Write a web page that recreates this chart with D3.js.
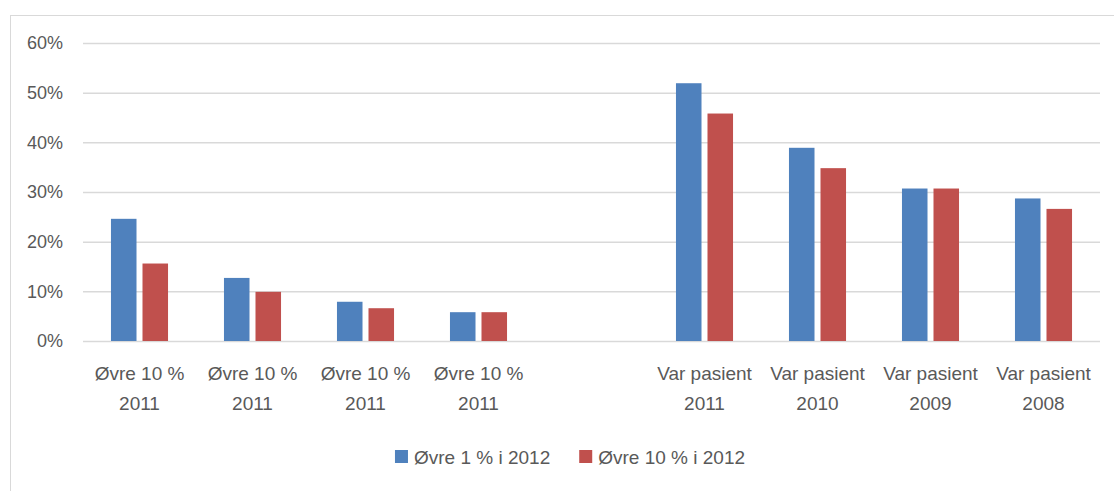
<!DOCTYPE html>
<html>
<head>
<meta charset="utf-8">
<script src="https://cdn.jsdelivr.net/npm/d3@7"></script>
<style>
	body { margin: 0; background: #fff; }
	text { font-family: "Liberation Sans", Arial, sans-serif; fill: #595959; }
</style>
</head>
<body>
<div id="chart"></div>
<script>
// values, in percent
const categories = [
	"Øvre 10 % 2011", "Øvre 10 % 2011", "Øvre 10 % 2011", "Øvre 10 % 2011",
	"",
	"Var pasient 2011", "Var pasient 2010", "Var pasient 2009", "Var pasient 2008"
];
const seriesNames = ["Øvre 1 % i 2012", "Øvre 10 % i 2012"];
const top1 = [24.6, 12.7, 7.9, 5.8, null, 51.9, 38.9, 30.7, 28.7];
const top10 = [15.6, 9.9, 6.6, 5.8, null, 45.8, 34.8, 30.7, 26.6];
const yTicks = [0, 10, 20, 30, 40, 50, 60];
const colors = ["#4f81bd", "#c0504d"];

const width = 1114, height = 491;
const plotLeft = 83, plotRight = 1100, plotTop = 43, plotBottom = 341;

const svg = d3.select('#chart').append('svg')
	.attr('width', width)
	.attr('height', height);

// chart frame
svg.append('rect')
	.attr('x', 10.5).attr('y', 15.5)
	.attr('width', width).attr('height', height)
	.attr('fill', 'none')
	.attr('stroke', '#d9d9d9');

const x0 = d3.scaleBand()
	.domain(d3.range(categories.length))
	.range([plotLeft, plotRight])
	.paddingInner(0.495)
	.paddingOuter(0.2475);
const x1 = d3.scaleBand()
	.domain([0, 1])
	.range([0, x0.bandwidth()])
	.paddingInner(0.19);
const y = d3.scaleLinear()
	.domain([0, 60])
	.range([plotBottom, plotTop]);

// gridlines + y labels
const yAxis = svg.append('g')
	.attr('transform', `translate(${plotLeft},0)`)
	.call(d3.axisLeft(y).tickValues(yTicks).tickSize(-(plotRight - plotLeft))
		.tickPadding(20).tickFormat(d => d + '%'));
yAxis.select('.domain').remove();
yAxis.selectAll('line').attr('stroke', '#d9d9d9').attr('stroke-width', 1.5);
yAxis.selectAll('text')
	.style('font-size', '18px')
	.attr('fill', '#595959')
	.attr('font-family', '"Liberation Sans", Arial, sans-serif');

// bars
const series = [top1, top10];
series.forEach((vals, s) => {
	svg.append('g')
		.selectAll('rect')
		.data(vals.map((v, i) => ({ v, i })).filter(d => d.v != null))
		.join('rect')
		.attr('x', d => x0(d.i) + x1(s))
		.attr('width', x1.bandwidth())
		.attr('y', d => y(d.v))
		.attr('height', d => y(0) - y(d.v))
		.attr('fill', colors[s]);
});

// category labels, split in two lines at the last space
const labels = svg.append('g')
	.selectAll('text')
	.data(categories.map((c, i) => ({ c, i })).filter(d => d.c))
	.join('text')
	.attr('text-anchor', 'middle')
	.style('font-size', '19px')
	.attr('transform', d => `translate(${x0(d.i) + x0.bandwidth() / 2},0)`);
labels.append('tspan')
	.attr('x', 0).attr('y', 380)
	.text(d => d.c.slice(0, d.c.lastIndexOf(' ')));
labels.append('tspan')
	.attr('x', 0).attr('y', 410)
	.text(d => d.c.slice(d.c.lastIndexOf(' ') + 1));

// legend
const legend = svg.append('g');
const items = legend.selectAll('g')
	.data(seriesNames)
	.join('g');
items.append('rect')
	.attr('width', 13).attr('height', 13)
	.attr('y', 450)
	.attr('fill', (d, i) => colors[i]);
items.append('text')
	.attr('x', 19).attr('y', 464)
	.style('font-size', '19px')
	.text(d => d);
let offset = 0;
const gap = 29;
const widths = [];
items.each(function () {
	widths.push(19 + this.querySelector('text').getComputedTextLength());
});
const total = d3.sum(widths) + gap * (widths.length - 1);
let start = 570 - total / 2;
items.attr('transform', (d, i) => {
	const t = `translate(${start + offset},0)`;
	offset += widths[i] + gap;
	return t;
});
</script>
</body>
</html>
